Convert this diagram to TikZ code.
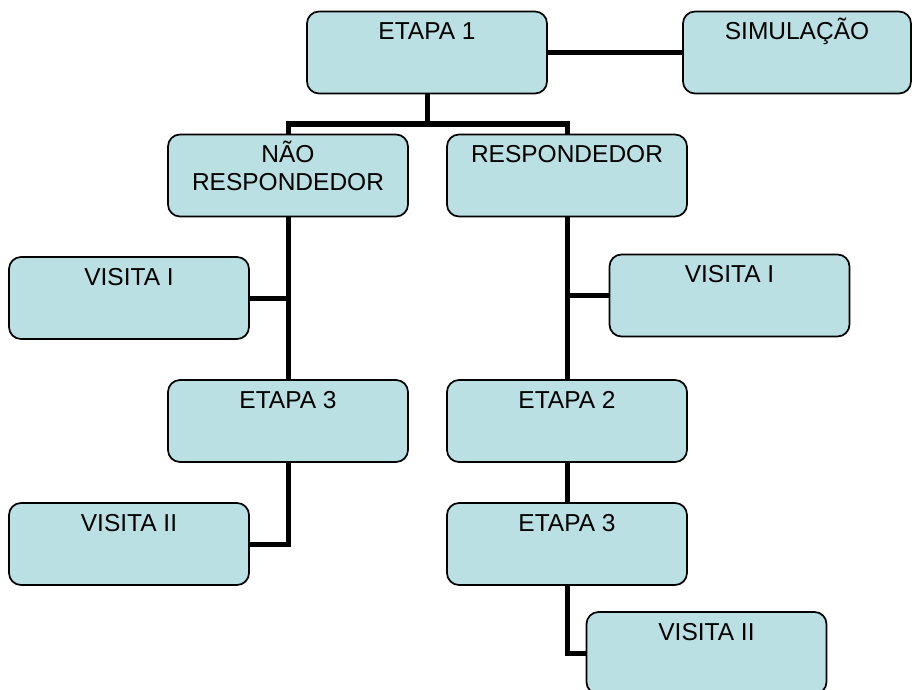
\documentclass[tikz,border=0pt]{standalone}
\usepackage{fontspec}
\setmainfont{Liberation Sans}
\definecolor{boxfill}{RGB}{186,224,227}

% top-aligned text inside a box of fixed size
\newcommand{\boxlabel}[2][240pt]{%
  \parbox[c][82pt][t]{#1}{\centering\baselineskip=28pt
    \rule{0pt}{28pt}#2\par}}

\tikzset{
  stage/.style={draw=black, line width=1.7pt, fill=boxfill,
    rounded corners=12pt, inner sep=0pt, outer sep=0pt,
    font=\fontsize{24.5pt}{28pt}\selectfont},
  link/.style={draw=black, line width=5pt}
}

\begin{document}
\begin{tikzpicture}[x=1pt, y=-1pt]
  \useasboundingbox (0,0) rectangle (912,690);

  % boxes
  \node[stage] (e1)  at (427,52.5)  {\boxlabel{ETAPA 1}};
  \node[stage] (sim) at (797,52.5)  {\boxlabel[228pt]{SIMULAÇÃO}};
  \node[stage] (nr)  at (288,175.5) {\boxlabel{NÃO\\RESPONDEDOR}};
  \node[stage] (r)   at (567,175.5) {\boxlabel{RESPONDEDOR}};
  \node[stage] (v1l) at (129,298)   {\boxlabel{VISITA I}};
  \node[stage] (v1r) at (729.5,295.5) {\boxlabel{VISITA I}};
  \node[stage] (e3l) at (288,421)   {\boxlabel{ETAPA 3}};
  \node[stage] (e2)  at (567,421)   {\boxlabel{ETAPA 2}};
  \node[stage] (v2l) at (129,544)   {\boxlabel{VISITA II}};
  \node[stage] (e3r) at (567,544)   {\boxlabel{ETAPA 3}};
  \node[stage] (v2r) at (706.5,653) {\boxlabel{VISITA II}};

  % branching point below ETAPA 1
  \coordinate (j1) at (427,124);

  % connectors
  \draw[link] (e1.east) -- (sim.west);
  \draw[link] (e1.south) -- (j1);
  \draw[link] (nr.north) -- (nr.north |- j1) -- (r.north |- j1) -- (r.north);
  \draw[link] (nr.south) -- (e3l.north);
  \draw[link] (v1l.east) -- (v1l.east -| nr.south);
  \draw[link] (e3l.south) |- (v2l.east);
  \draw[link] (r.south) -- (e2.north);
  \draw[link] (v1r.west) -- (v1r.west -| r.south);
  \draw[link] (e2.south) -- (e3r.north);
  \draw[link] (e3r.south) |- (v2r.west);
\end{tikzpicture}
\end{document}
